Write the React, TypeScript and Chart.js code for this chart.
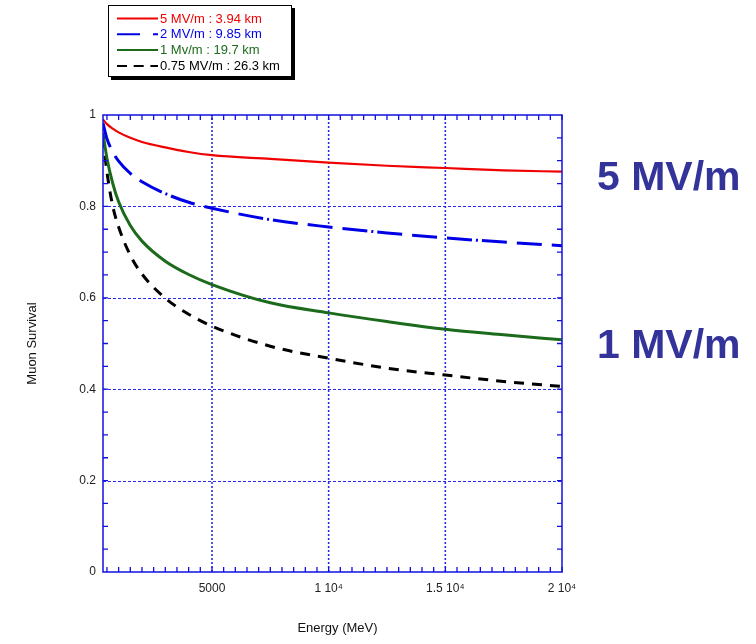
import React, { useEffect, useRef } from "react";
import { Chart, registerables } from "chart.js";

Chart.register(...registerables);

// Beam energy (MeV) at which survival is sampled
const energies = [330, 500, 750, 1000, 1500, 2000, 3000, 4000, 5000, 7500, 10000, 12500, 15000, 17500, 20000];

// Muon survival fraction for each accelerating gradient
const survival5 = [0.99, 0.98, 0.97, 0.962, 0.95, 0.941, 0.929, 0.919, 0.912, 0.904, 0.896, 0.889, 0.884, 0.879, 0.876];
const survival2 = [0.982, 0.948, 0.919, 0.899, 0.872, 0.854, 0.828, 0.809, 0.796, 0.771, 0.755, 0.742, 0.731, 0.722, 0.714];
const survival1 = [0.96, 0.905, 0.85, 0.81, 0.758, 0.724, 0.68, 0.651, 0.629, 0.589, 0.567, 0.548, 0.531, 0.519, 0.508];
const survival075 = [0.95, 0.875, 0.8, 0.755, 0.693, 0.652, 0.599, 0.564, 0.538, 0.494, 0.468, 0.446, 0.431, 0.417, 0.406];

const seriesLabels = ["5 MV/m : 3.94 km", "2 MV/m : 9.85 km", "1 Mv/m : 19.7 km", "0.75 MV/m : 26.3 km"];
const seriesColors = ["#f00000", "#0000e6", "#1c6b1c", "#000000"];

const xTickValues = [5000, 10000, 15000, 20000];
const xTickLabels = ["5000", "1 10\u2074", "1.5 10\u2074", "2 10\u2074"];
const yTickValues = [0, 0.2, 0.4, 0.6, 0.8, 1];
const yTickLabels = ["0", "0.2", "0.4", "0.6", "0.8", "1"];
const xMinorStep = 500;
const yMinorStep = 0.05;

const sideLabels = ["5 MV/m", "1 MV/m"];

const FONT = "'Liberation Sans', Arial, Helvetica, sans-serif";
const AXIS_BLUE = "#1010e0";
const GRID_BLUE = "#2a2aee";

const framePlugin = {
  id: "frameAndGrid",
  beforeDatasetsDraw(chart: any) {
    const { ctx, chartArea: a, scales } = chart;
    const x = scales.x;
    const y = scales.y;
    ctx.save();
    ctx.strokeStyle = GRID_BLUE;
    // vertical dotted grid at major energies
    ctx.lineWidth = 1.6;
    ctx.setLineDash([2, 2]);
    for (const v of xTickValues) {
      if (v >= x.max) continue;
      const px = x.getPixelForValue(v);
      ctx.beginPath();
      ctx.moveTo(px, a.bottom);
      ctx.lineTo(px, a.top);
      ctx.stroke();
    }
    // horizontal dotted grid at major survival values
    ctx.lineWidth = 1;
    ctx.setLineDash([3, 2]);
    for (const v of yTickValues) {
      if (v <= y.min || v >= y.max) continue;
      const py = Math.round(y.getPixelForValue(v)) + 0.5;
      ctx.beginPath();
      ctx.moveTo(a.left, py);
      ctx.lineTo(a.right, py);
      ctx.stroke();
    }
    ctx.restore();
  },
  afterDatasetsDraw(chart: any) {
    const { ctx, chartArea: a, scales } = chart;
    const x = scales.x;
    const y = scales.y;
    ctx.save();
    ctx.strokeStyle = AXIS_BLUE;
    ctx.lineWidth = 1.3;
    ctx.setLineDash([]);
    const tl = 5;
    // minor ticks along bottom and top
    const first = Math.ceil(x.min / xMinorStep);
    const last = Math.floor(x.max / xMinorStep);
    for (let i = first; i <= last; i++) {
      const px = x.getPixelForValue(i * xMinorStep);
      ctx.beginPath();
      ctx.moveTo(px, a.bottom);
      ctx.lineTo(px, a.bottom - tl);
      ctx.moveTo(px, a.top);
      ctx.lineTo(px, a.top + tl);
      ctx.stroke();
    }
    // minor ticks along left and right
    const n = Math.round((y.max - y.min) / yMinorStep);
    for (let i = 1; i < n; i++) {
      const py = y.getPixelForValue(y.min + i * yMinorStep);
      ctx.beginPath();
      ctx.moveTo(a.left, py);
      ctx.lineTo(a.left + tl, py);
      ctx.moveTo(a.right, py);
      ctx.lineTo(a.right - tl, py);
      ctx.stroke();
    }
    // plot frame
    ctx.lineWidth = 1.5;
    ctx.strokeRect(a.left, a.top, a.right - a.left, a.bottom - a.top);
    ctx.restore();
  },
  afterDraw(chart: any) {
    const { ctx, chartArea: a } = chart;
    ctx.save();

    // axis titles
    ctx.fillStyle = "#111";
    ctx.font = `13px ${FONT}`;
    ctx.textAlign = "center";
    ctx.textBaseline = "middle";
    ctx.fillText("Energy (MeV)", (a.left + a.right) / 2 + 5, 628);
    ctx.save();
    ctx.translate(32, (a.top + a.bottom) / 2);
    ctx.rotate(-Math.PI / 2);
    ctx.fillText("Muon Survival", 0, 0);
    ctx.restore();

    // legend box with drop shadow
    const bx = 108;
    const by = 5;
    const bw = 184;
    const bh = 72;
    ctx.fillStyle = "#000";
    ctx.fillRect(bx + 3, by + 3, bw, bh);
    ctx.fillStyle = "#fff";
    ctx.fillRect(bx, by, bw, bh);
    ctx.strokeStyle = "#000";
    ctx.lineWidth = 1;
    ctx.strokeRect(bx + 0.5, by + 0.5, bw - 1, bh - 1);

    ctx.font = `13px ${FONT}`;
    ctx.textAlign = "left";
    ctx.textBaseline = "middle";
    chart.data.datasets.forEach((ds: any, i: number) => {
      const cy = 18.5 + i * 15.8;
      ctx.save();
      ctx.strokeStyle = ds.borderColor;
      ctx.lineWidth = 2;
      ctx.setLineDash(ds.legendDash || []);
      ctx.beginPath();
      ctx.moveTo(117, cy);
      ctx.lineTo(158, cy);
      ctx.stroke();
      ctx.restore();
      ctx.fillStyle = ds.borderColor;
      ctx.fillText(ds.label, 160, cy + 0.5);
    });

    // gradient annotations to the right of the plot
    ctx.fillStyle = "#333399";
    ctx.font = `bold 41px ${FONT}`;
    ctx.textAlign = "left";
    ctx.textBaseline = "alphabetic";
    ctx.fillText(sideLabels[0], 597, 190);
    ctx.fillText(sideLabels[1], 597, 358);

    ctx.restore();
  },
};

function toPoints(values: number[]) {
  return energies.map((e, i) => ({ x: e, y: values[i] }));
}

export default function App() {
  const canvasRef = useRef<HTMLCanvasElement | null>(null);

  useEffect(() => {
    const canvas = canvasRef.current;
    if (!canvas) return;
    const seriesValues = [survival5, survival2, survival1, survival075];
    const dashes = [[], [25, 10, 25, 10, 25, 4, 2, 4], [], [10, 8]];
    const legendDashes = [[], [23, 13], [], [10, 6.7]];
    const widths = [2.2, 3, 3, 3];

    const chart = new Chart(canvas, {
      type: "line",
      data: {
        datasets: seriesValues.map((vals, i) => ({
          label: seriesLabels[i],
          data: toPoints(vals),
          borderColor: seriesColors[i],
          backgroundColor: seriesColors[i],
          borderWidth: widths[i],
          borderDash: dashes[i],
          borderCapStyle: "butt",
          legendDash: legendDashes[i],
          pointRadius: 0,
          fill: false,
          cubicInterpolationMode: "monotone",
        })) as any,
      },
      options: {
        responsive: false,
        animation: false,
        devicePixelRatio: 1,
        layout: { padding: { left: 0, right: 194, top: 115, bottom: 0 } },
        plugins: {
          legend: { display: false },
          tooltip: { enabled: false },
        },
        scales: {
          x: {
            type: "linear",
            min: energies[0],
            max: energies[energies.length - 1],
            grid: { display: false, drawTicks: false },
            border: { display: false },
            afterBuildTicks: (scale: any) => {
              scale.ticks = xTickValues.map((v) => ({ value: v }));
            },
            afterFit: (scale: any) => {
              scale.height = 72;
            },
            ticks: {
              autoSkip: false,
              maxRotation: 0,
              minRotation: 0,
              padding: 9,
              color: "#222",
              font: { family: FONT, size: 12 },
              callback: (_v: any, i: number) => xTickLabels[i],
            },
          },
          y: {
            type: "linear",
            min: 0,
            max: 1,
            grid: { display: false, drawTicks: false },
            border: { display: false },
            afterBuildTicks: (scale: any) => {
              scale.ticks = yTickValues.map((v) => ({ value: v }));
            },
            afterFit: (scale: any) => {
              scale.width = 103;
            },
            ticks: {
              padding: 7,
              color: "#222",
              font: { family: FONT, size: 12 },
              callback: (_v: any, i: number) => yTickLabels[i],
            },
          },
        },
      },
      plugins: [framePlugin],
    } as any);

    return () => chart.destroy();
  }, []);

  return (
    <div style={{ position: "absolute", left: 0, top: 0, width: 756, height: 644, background: "#fff" }}>
      <canvas ref={canvasRef} width={756} height={644} style={{ display: "block" }} />
    </div>
  );
}
